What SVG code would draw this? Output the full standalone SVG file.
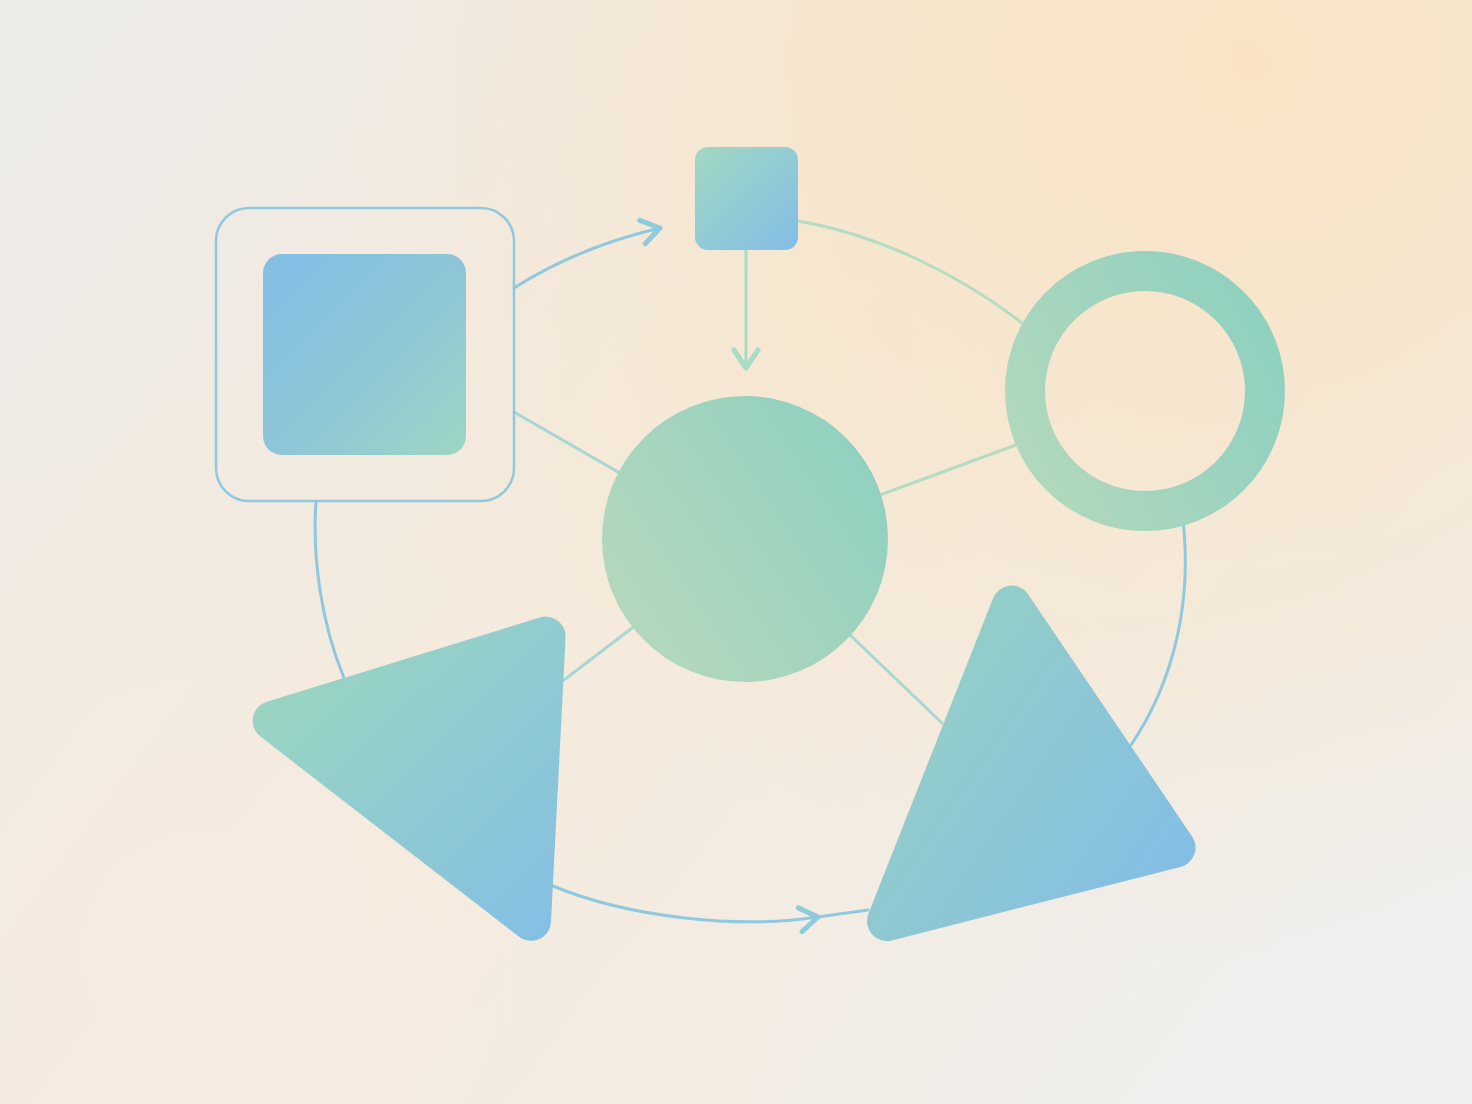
<svg xmlns="http://www.w3.org/2000/svg" width="1472" height="1104" viewBox="0 0 1472 1104">
<defs>
<linearGradient id="bgBase" x1="0" y1="0" x2="1472" y2="1104" gradientUnits="userSpaceOnUse">
<stop offset="0" stop-color="#ecebe9"/>
<stop offset="0.45" stop-color="#f5eadb"/>
<stop offset="1" stop-color="#eef0f2"/>
</linearGradient>
<radialGradient id="bgPeach" cx="1250" cy="60" r="900" gradientUnits="userSpaceOnUse">
<stop offset="0" stop-color="#f9e3c4" stop-opacity="1"/>
<stop offset="1" stop-color="#f9e3c4" stop-opacity="0"/>
</radialGradient>
<radialGradient id="bgCream" cx="200" cy="950" r="600" gradientUnits="userSpaceOnUse">
<stop offset="0" stop-color="#f5ebe1" stop-opacity="0.9"/>
<stop offset="1" stop-color="#f5ebe1" stop-opacity="0"/>
</radialGradient>
<linearGradient id="gInner" x1="263" y1="254" x2="466" y2="455" gradientUnits="userSpaceOnUse">
<stop offset="0" stop-color="#82bde5"/>
<stop offset="0.55" stop-color="#8fc6d6"/>
<stop offset="1" stop-color="#9ed6c4"/>
</linearGradient>
<linearGradient id="gSmall" x1="695" y1="147" x2="798" y2="250" gradientUnits="userSpaceOnUse">
<stop offset="0" stop-color="#a0d8c2"/>
<stop offset="1" stop-color="#84bde6"/>
</linearGradient>
<linearGradient id="gRing" x1="1010" y1="460" x2="1280" y2="320" gradientUnits="userSpaceOnUse">
<stop offset="0" stop-color="#b2d8bc"/>
<stop offset="1" stop-color="#8ed0c0"/>
</linearGradient>
<linearGradient id="gCircle" x1="610" y1="630" x2="880" y2="450" gradientUnits="userSpaceOnUse">
<stop offset="0" stop-color="#b6d8bc"/>
<stop offset="1" stop-color="#8fd0c0"/>
</linearGradient>
<linearGradient id="gTri1" x1="290" y1="660" x2="560" y2="940" gradientUnits="userSpaceOnUse">
<stop offset="0" stop-color="#9ad5c0"/>
<stop offset="1" stop-color="#84bee5"/>
</linearGradient>
<linearGradient id="gTri2" x1="900" y1="680" x2="1190" y2="880" gradientUnits="userSpaceOnUse">
<stop offset="0" stop-color="#95cfc6"/>
<stop offset="1" stop-color="#83bde6"/>
</linearGradient>
<marker id="arrowBlue" viewBox="0 0 28 32" refX="23" refY="16" markerWidth="28" markerHeight="32" markerUnits="userSpaceOnUse" orient="auto">
<path d="M5,4 L23,16 L5,28" fill="none" stroke="#8ecbdc" stroke-width="5" stroke-linecap="round" stroke-linejoin="round"/>
</marker>
<marker id="arrowGreen" viewBox="0 0 28 32" refX="23" refY="16" markerWidth="28" markerHeight="32" markerUnits="userSpaceOnUse" orient="auto">
<path d="M5,4 L23,16 L5,28" fill="none" stroke="#a8dcc6" stroke-width="5" stroke-linecap="round" stroke-linejoin="round"/>
</marker>
</defs>
<style>
.conn { fill: none; stroke-width: 3; stroke-linecap: round; }
.blue { stroke: #8fc8df; }
.teal { stroke: #a8d6d2; }
.green { stroke: #b4dcc2; }
.tri { stroke-width: 40; stroke-linejoin: round; }
</style>
<rect x="0" y="0" width="1472" height="1104" fill="url(#bgBase)"/>
<rect x="0" y="0" width="1472" height="1104" fill="url(#bgPeach)"/>
<rect x="0" y="0" width="1472" height="1104" fill="url(#bgCream)"/>

<g id="connectors">
<path class="conn blue" d="M514,288 C555,262 600,242 660,228" marker-end="url(#arrowBlue)"/>
<path class="conn" d="M746,250 L746,368" stroke="#a8dcc6" marker-end="url(#arrowGreen)"/>
<path class="conn green" d="M798,221 C880,235 960,275 1022,323"/>
<path class="conn teal" d="M514,412 L618,472"/>
<path class="conn green" d="M880,495 L1016,445"/>
<path class="conn teal" d="M632,628 L564,680"/>
<path class="conn teal" d="M850,635 L942,723"/>
<path class="conn blue" d="M316,501 C312,560 322,625 344,678"/>
<path class="conn blue" d="M1183,520 C1192,600 1175,680 1131,745"/>
<path class="conn blue" d="M553,886 C630,918 740,929 818,917" marker-end="url(#arrowBlue)"/>
<path class="conn blue" d="M818,917 L868,910"/>
</g>

<g id="node-outer-square">
<rect x="216" y="208" width="298" height="293" rx="33" ry="33" fill="none" stroke="#8fc8df" stroke-width="2.5"/>
<rect x="263" y="254" width="203" height="201" rx="19" ry="19" fill="url(#gInner)"/>
</g>

<g id="node-small-square">
<rect x="695" y="147" width="103" height="103" rx="13" ry="13" fill="url(#gSmall)"/>
</g>

<g id="node-ring">
<circle cx="1145" cy="391" r="120" fill="none" stroke="url(#gRing)" stroke-width="40"/>
</g>

<g id="node-circle">
<circle cx="745" cy="539" r="143" fill="url(#gCircle)"/>
</g>

<g id="node-triangle-left">
<polygon class="tri" points="272.7,720.8 545.6,636.6 531,920.8" fill="url(#gTri1)" stroke="url(#gTri1)"/>
</g>

<g id="node-triangle-right">
<polygon class="tri" points="1011.7,605.6 1175.5,847.6 887,921" fill="url(#gTri2)" stroke="url(#gTri2)"/>
</g>
</svg>
